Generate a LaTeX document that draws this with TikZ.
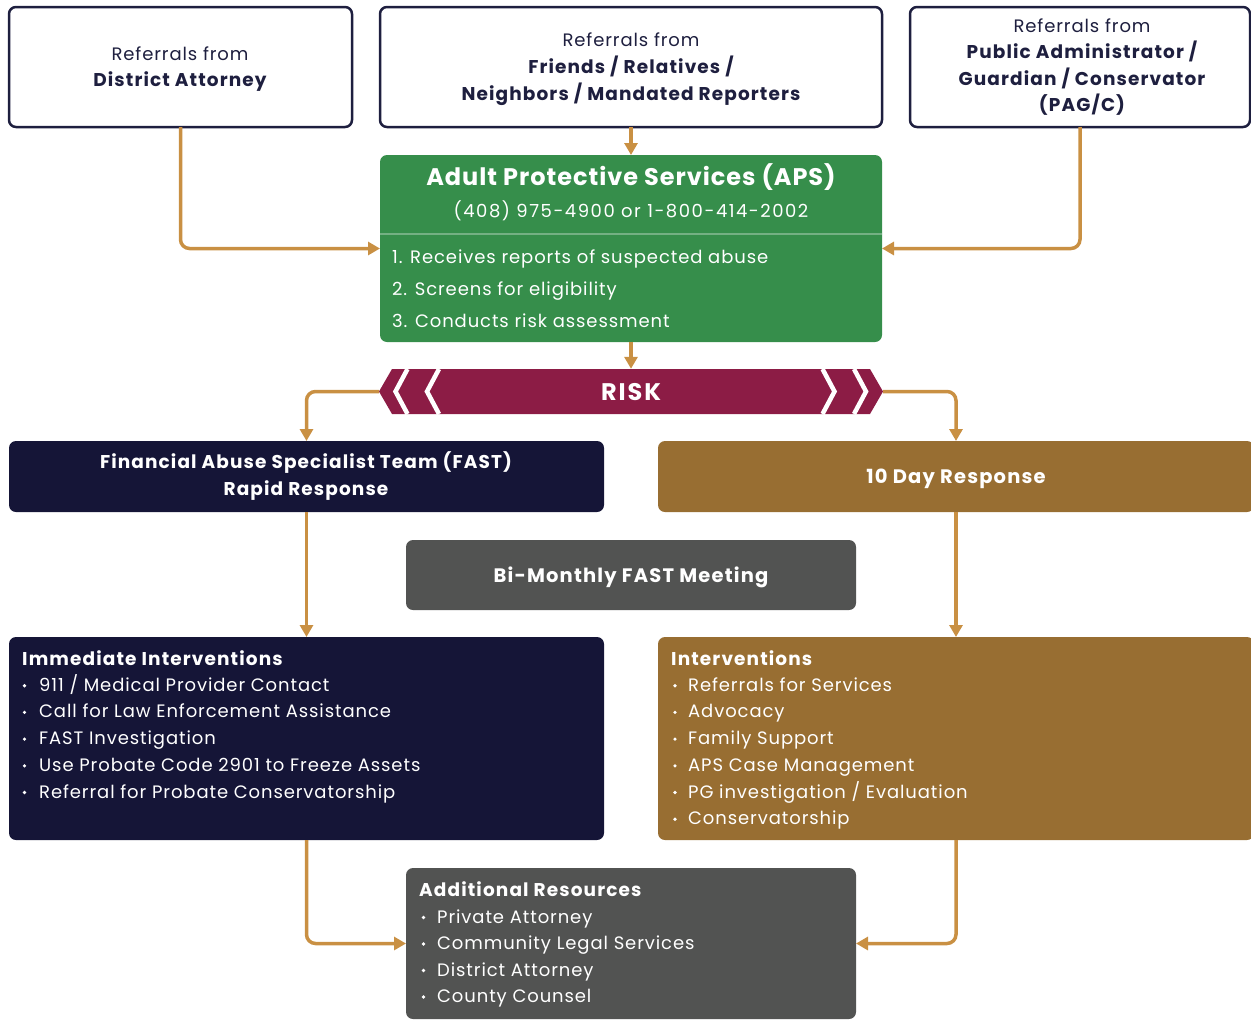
\documentclass[tikz,border=0pt]{standalone}
\usepackage{fontspec}
\setmainfont{Poppins}
\newfontfamily\regf{Poppins}[LetterSpace=5]
\newfontfamily\bldf{Poppins}[LetterSpace=6]
\newfontfamily\titf{Poppins}[LetterSpace=4]
\newfontfamily\phonef{Poppins}[LetterSpace=8.5]
\newfontfamily\riskf{Poppins}[LetterSpace=8]
\usetikzlibrary{arrows.meta}
\definecolor{refline}{HTML}{1E1F3F}
\definecolor{navy}{HTML}{151537}
\definecolor{apsgreen}{HTML}{368E4B}
\definecolor{divgreen}{HTML}{74B083}
\definecolor{maroon}{HTML}{8C1C45}
\definecolor{brown}{HTML}{986E32}
\definecolor{boxgray}{HTML}{525352}
\definecolor{gold}{HTML}{C99043}
\begin{document}
\begin{tikzpicture}[x=1pt,y=-1pt,
  box/.style={inner sep=0pt, outer sep=0pt, rounded corners=7pt},
  refbox/.style={box, draw=refline, line width=2.5pt, fill=white},
  conn/.style={draw=gold, line width=3.5pt, rounded corners=9pt, -{Triangle[length=12pt,width=13pt]}},
  reg/.style={inner sep=0pt, font=\regf\fontsize{18}{20}\selectfont},
  bld/.style={inner sep=0pt, font=\bldf\fontsize{18.5}{20}\selectfont\bfseries},
  bigbld/.style={inner sep=0pt, font=\bldf\fontsize{19.5}{22}\selectfont\bfseries},
  reftxt/.style={reg, text=refline, anchor=base},
  refbld/.style={bld, text=refline, anchor=base},
  wreg/.style={reg, text=white, anchor=base west},
  wbld/.style={bld, text=white},
  bul/.style={fill=white}
]
\useasboundingbox (0,0) rectangle (1251,1020);

% referral boxes
\node[refbox, minimum width=343pt, minimum height=120pt] (da) at (180.5,67) {};
\node[refbox, minimum width=502pt, minimum height=120pt] (fr) at (631,67) {};
\node[refbox, minimum width=340pt, minimum height=120pt] (pag) at (1080,67) {};

\node[reftxt] (daA) at (180,60) {Referrals from};
\node[refbld] (daB) at (180,86) {District Attorney};

\node[reftxt] (frA) at (631,46) {Referrals from};
\node[refbld] (frB) at (631,73) {Friends / Relatives /};
\node[refbld] (frC) at (631,100) {Neighbors / Mandated Reporters};

\node[reftxt] (pagA) at (1082,32) {Referrals from};
\node[refbld] (pagB) at (1082,58) {Public Administrator /};
\node[refbld] (pagC) at (1082,85) {Guardian / Conservator};
\node[refbld] (pagD) at (1082,111) {(PAG/C)};

% APS
\node[box, fill=apsgreen, minimum width=502pt, minimum height=187pt] (aps) at (631,248.5) {};
\draw[divgreen, line width=1.5pt] (aps.west |- 0,234) -- (aps.east |- 0,234);
\node[inner sep=0pt, text=white, anchor=base, font=\titf\fontsize{24}{28}\selectfont\bfseries] (apsT) at (631,185) {Adult Protective Services (APS)};
\node[inner sep=0pt, text=white, anchor=base, font=\phonef\fontsize{18}{20}\selectfont] (apsP) at (631,217) {(408) 975-4900 or 1-800-414-2002};
\node[wreg] (aps1) at (392,263) {1. Receives reports of suspected abuse};
\node[wreg] (aps2) at (392,295) {2. Screens for eligibility};
\node[wreg] (aps3) at (392,327) {3. Conducts risk assessment};

% RISK banner
\fill[maroon] (392,369) -- (870,369) -- (883,391.5) -- (870,414) -- (392,414) -- (379,391.5) -- cycle;
\begin{scope}[draw=white, line width=4.5pt, line join=miter]
  \draw (407.5,369) -- (395.5,391.5) -- (407.5,414);
  \draw (439,369) -- (427,391.5) -- (439,414);
  \draw (822.5,369) -- (834.5,391.5) -- (822.5,414);
  \draw (854,369) -- (866,391.5) -- (854,414);
\end{scope}
\node[inner sep=0pt, minimum width=478pt, minimum height=45pt] (risk) at (631,391.5) {};
\node[inner sep=0pt, text=white, anchor=base, font=\riskf\fontsize{24}{26}\selectfont\bfseries] (riskT) at (631,400.5) {RISK};
\coordinate (riskL) at (379,391.5);
\coordinate (riskR) at (883,391.5);

% response boxes
\node[box, fill=navy, minimum width=595pt, minimum height=71pt] (fast) at (306.5,476.5) {};
\node[wbld, anchor=base] (fastA) at (306,468) {Financial Abuse Specialist Team (FAST)};
\node[wbld, anchor=base] (fastB) at (306,495) {Rapid Response};

\node[box, fill=brown, minimum width=596pt, minimum height=71pt] (ten) at (956,476.5) {};
\node[bigbld, text=white, anchor=base] (tenA) at (956,483) {10 Day Response};

\node[box, fill=boxgray, minimum width=450pt, minimum height=70pt] (bim) at (631,575) {};
\node[bigbld, text=white, anchor=base] (bimA) at (631,582) {Bi-Monthly FAST Meeting};

% interventions
\node[box, fill=navy, minimum width=595pt, minimum height=203pt] (imm) at (306.5,738.5) {};
\node[wbld, anchor=base west] (immH) at (22,665) {Immediate Interventions};
\foreach \t [count=\i] in {911 / Medical Provider Contact, Call for Law Enforcement Assistance, FAST Investigation, Use Probate Code 2901 to Freeze Assets, Referral for Probate Conservatorship}{
  \pgfmathsetmacro{\yy}{664.5+26.7*\i}
  \node[wreg] (imm\i) at (39,\yy) {\t};
  \fill[bul] (24.5,\yy-5.5) circle (1.8pt);
}

\node[box, fill=brown, minimum width=596pt, minimum height=203pt] (intv) at (956,738.5) {};
\node[wbld, anchor=base west] (intvH) at (671,665) {Interventions};
\foreach \t [count=\i] in {Referrals for Services, Advocacy, Family Support, APS Case Management, PG investigation / Evaluation, Conservatorship}{
  \pgfmathsetmacro{\yy}{664.5+26.7*\i}
  \node[wreg] (intv\i) at (688,\yy) {\t};
  \fill[bul] (675,\yy-5.5) circle (1.8pt);
}

\node[box, fill=boxgray, minimum width=450pt, minimum height=151pt] (add) at (631,943.5) {};
\node[wbld, anchor=base west] (addH) at (419,896) {Additional Resources};
\foreach \t [count=\i] in {Private Attorney, Community Legal Services, District Attorney, County Counsel}{
  \pgfmathsetmacro{\yy}{896.5+26.5*\i}
  \node[wreg] (add\i) at (437,\yy) {\t};
  \fill[bul] (423.5,\yy-5.5) circle (1.8pt);
}

% connectors
\draw[conn] (da.south) |- (aps.west);
\draw[conn] (fr.south) -- (aps.north);
\draw[conn] (pag.south) |- (aps.east);
\draw[conn] (aps.south) -- (risk.north);
\draw[conn] (riskL) -| (fast.north);
\draw[conn] (riskR) -| (ten.north);
\draw[conn] (fast.south) -- (imm.north);
\draw[conn] (ten.south) -- (intv.north);
\draw[conn] (imm.south) |- (add.west);
\draw[conn] (intv.south) |- (add.east);
\end{tikzpicture}
\end{document}
